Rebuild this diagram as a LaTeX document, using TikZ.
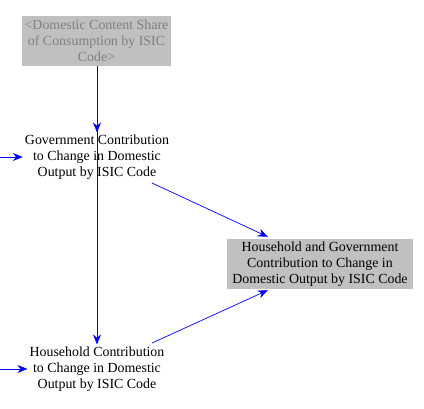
\documentclass[tikz,border=0pt]{standalone}
\usepackage{fontspec}
\setmainfont{Liberation Serif}
\usetikzlibrary{arrows.meta,calc}
\definecolor{boxgray}{HTML}{C0C0C0}
\definecolor{ghosttext}{HTML}{808080}
\definecolor{arcblue}{HTML}{0000FF}
\begin{document}
\begin{tikzpicture}[x=1pt,y=1pt,
  every node/.style={font=\fontsize{13.9pt}{16pt}\selectfont, align=center, inner sep=2pt},
  varnode/.style={},
  graybox/.style={fill=boxgray, minimum height=50pt},
  arc/.style={draw=arcblue, line width=0.7pt, -{Stealth[length=10pt,width=8pt]}}]
\useasboundingbox (0,0) rectangle (424,-408);
\node[graybox, minimum width=149pt, text=ghosttext] (dcs) at (96.5,-41) {<Domestic Content Share\\of Consumption by ISIC\\Code>};
\node[varnode] (gov) at (97,-157) {Government Contribution\\to Change in Domestic\\Output by ISIC Code};
\node[varnode] (hh) at (97,-369) {Household Contribution\\to Change in Domestic\\Output by ISIC Code};
\node[graybox, minimum width=186pt] (hg) at (320,-264) {Household and Government\\Contribution to Change in\\Domestic Output by ISIC Code};
\coordinate (ingov) at (0,-157);
\coordinate (inhh) at (0,-369);
\draw[arc] (dcs.south -| 97,0) -- (gov.north -| 97,0);
\draw[arc] (dcs.south -| 97,0) -- (hh.north -| 97,0);
\draw[arc] (ingov) -- (gov.west);
\draw[arc] (inhh) -- (hh.west);
\draw[arc] ($(gov.center)+(55,-26)$) -- ($(hg.north west)+(41,2)$);
\draw[arc] ($(hh.center)+(55,26)$) -- ($(hg.south west)+(41,-1)$);
\end{tikzpicture}
\end{document}
